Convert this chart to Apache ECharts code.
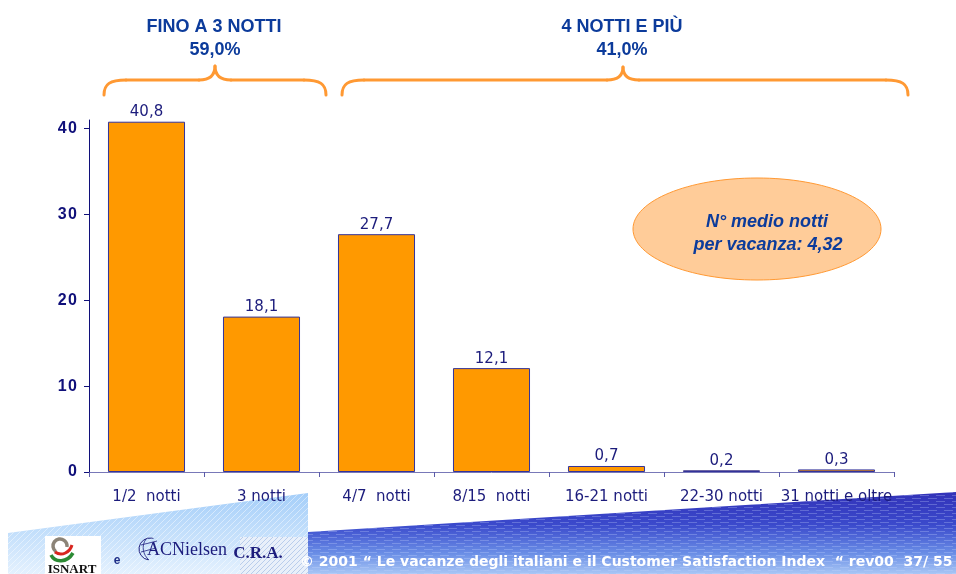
<!DOCTYPE html>
<html>
<head>
<meta charset="utf-8">
<script src="https://cdn.jsdelivr.net/npm/echarts@6/dist/echarts.min.js"></script>
<style>
  html, body { margin: 0; padding: 0; background: #ffffff; }
  #chart { width: 956px; height: 574px; }
</style>
</head>
<body>
<div id="chart"></div>
<script>
// Durata della vacanza: quota di vacanze per numero di notti (%)
const categories = ['1/2  notti', '3 notti', '4/7  notti', '8/15  notti', '16-21 notti', '22-30 notti', '31 notti e oltre'];
const shares = [40.8, 18.1, 27.7, 12.1, 0.7, 0.2, 0.3];
const yTicks = [0, 10, 20, 30, 40];

// Raggruppamenti indicati sopra il grafico
const groupTitles = ['FINO A 3 NOTTI', '4 NOTTI E PIÙ'];
const groupShares = [59.0, 41.0];
const averageNights = 4.32;

const footerText = '© 2001 “ Le vacanze degli italiani e il Customer Satisfaction Index  “ rev00  37/ 55';

const fmt = (v, d) => v.toFixed(d).replace('.', ',');

const NAVY = '#1c1c7c';
const TITLE_BLUE = '#0c3b9b';
const BRACE = '#ff9933';

// small repeating textures for the footer bands
function makePattern(w, h, draw) {
  const c = document.createElement('canvas');
  c.width = w; c.height = h;
  draw(c.getContext('2d'));
  return { image: c, repeat: 'repeat' };
}
const dashTexture = makePattern(16, 6, ctx => {
  ctx.fillStyle = 'rgba(205,220,255,0.28)';
  ctx.fillRect(0, 0, 9, 1);
  ctx.fillRect(8, 3, 8, 1);
  ctx.fillRect(0, 3, 1, 1);
});
const hatchTexture = makePattern(6, 6, ctx => {
  ctx.strokeStyle = 'rgba(255,255,255,0.45)';
  ctx.lineWidth = 1;
  ctx.beginPath();
  ctx.moveTo(0, 6); ctx.lineTo(6, 0);
  ctx.moveTo(-3, 3); ctx.lineTo(3, -3);
  ctx.moveTo(3, 9); ctx.lineTo(9, 3);
  ctx.stroke();
});
const greyHatch = makePattern(5, 5, ctx => {
  ctx.fillStyle = '#e9f0fa';
  ctx.fillRect(0, 0, 5, 5);
  ctx.strokeStyle = '#b9cdec';
  ctx.lineWidth = 1;
  ctx.beginPath();
  ctx.moveTo(0, 5); ctx.lineTo(5, 0);
  ctx.stroke();
});

// curly brace built from bezier segments
function brace(left, right, tipX, yEnd, yMid, yTip) {
  const s = { stroke: BRACE, lineWidth: 3, fill: null, lineCap: 'round' };
  const r = 22, t = 16;
  return [
    { type: 'bezierCurve', shape: { x1: left, y1: yEnd, cpx1: left, cpy1: yMid + 4, cpx2: left + 6, cpy2: yMid, x2: left + r, y2: yMid }, style: s },
    { type: 'line', shape: { x1: left + r, y1: yMid, x2: tipX - t, y2: yMid }, style: s },
    { type: 'bezierCurve', shape: { x1: tipX - t, y1: yMid, cpx1: tipX - 5, cpy1: yMid, cpx2: tipX, cpy2: yMid - 5, x2: tipX, y2: yTip }, style: s },
    { type: 'bezierCurve', shape: { x1: tipX, y1: yTip, cpx1: tipX, cpy1: yMid - 5, cpx2: tipX + 5, cpy2: yMid, x2: tipX + t, y2: yMid }, style: s },
    { type: 'line', shape: { x1: tipX + t, y1: yMid, x2: right - r, y2: yMid }, style: s },
    { type: 'bezierCurve', shape: { x1: right - r, y1: yMid, cpx1: right - 6, cpy1: yMid, cpx2: right, cpy2: yMid + 4, x2: right, y2: yEnd }, style: s }
  ].map(e => Object.assign(e, { z: 5 }));
}

const chart = echarts.init(document.getElementById('chart'), null, { renderer: 'canvas' });

const graphics = [
  // footer: light wedge on the left
  { type: 'polygon', z: -10, shape: { points: [[8, 533], [308, 493], [308, 574], [8, 574]] },
    style: { fill: new echarts.graphic.LinearGradient(0, 0, 0, 1, [
      { offset: 0, color: '#a4cef9' }, { offset: 1, color: '#e4f1fe' }]) } },
  { type: 'polygon', z: -9, shape: { points: [[8, 533], [308, 493], [308, 574], [8, 574]] },
    style: { fill: hatchTexture } },
  { type: 'rect', z: -8, shape: { x: 240, y: 537, width: 68, height: 37 }, style: { fill: greyHatch } },
  // footer: dark band on the right
  { type: 'polygon', z: -10, shape: { points: [[308, 532], [956, 492], [956, 574], [308, 574]] },
    style: { fill: new echarts.graphic.LinearGradient(0, 0, 0, 1, [
      { offset: 0, color: '#3232b8' }, { offset: 0.4, color: '#3b4acc' },
      { offset: 0.75, color: '#6a8ee6' }, { offset: 1, color: '#a8c6f5' }]) } },
  { type: 'polygon', z: -9, shape: { points: [[308, 532], [956, 492], [956, 574], [308, 574]] },
    style: { fill: dashTexture } },

  // ISNART logo
  { type: 'rect', z: 10, shape: { x: 45, y: 536, width: 56, height: 38 }, style: { fill: '#ffffff' } },
  { type: 'arc', z: 11, shape: { cx: 60, cy: 546, r: 7, startAngle: Math.PI * 0.7, endAngle: Math.PI * 2.05 },
    style: { stroke: '#8c8478', lineWidth: 3.5, fill: null } },
  { type: 'bezierCurve', z: 11, shape: { x1: 55, y1: 552, cpx1: 62, cpy1: 557, cpx2: 70, cpy2: 552, x2: 72, y2: 545 },
    style: { stroke: '#d8261f', lineWidth: 3, fill: null } },
  { type: 'bezierCurve', z: 11, shape: { x1: 51, y1: 555, cpx1: 55, cpy1: 563, cpx2: 67, cpy2: 563, x2: 73, y2: 553 },
    style: { stroke: '#2c8a34', lineWidth: 3.5, fill: null } },
  { type: 'text', z: 11, style: { text: 'ISNART', x: 72, y: 563, textAlign: 'center', textVerticalAlign: 'top',
    font: 'bold 13px "Liberation Serif"', fill: '#111111' } },
  { type: 'text', z: 11, style: { text: 'e', x: 117, y: 561, textAlign: 'center', textVerticalAlign: 'middle',
    font: 'bold 12px "Liberation Sans"', fill: '#1f2f88' } },
  // ACNielsen mark
  { type: 'arc', z: 11, shape: { cx: 150, cy: 549, r: 11, startAngle: Math.PI * 0.55, endAngle: Math.PI * 1.6 },
    style: { stroke: '#1c1c7c', lineWidth: 1, fill: null } },
  { type: 'bezierCurve', z: 11, shape: { x1: 146, y1: 539, cpx1: 141, cpy1: 546, cpx2: 143, cpy2: 555, x2: 149, y2: 560 },
    style: { stroke: '#1c1c7c', lineWidth: 0.8, fill: null } },
  { type: 'line', z: 11, shape: { x1: 141, y1: 545, x2: 157, y2: 541 }, style: { stroke: '#1c1c7c', lineWidth: 0.8 } },
  { type: 'line', z: 11, shape: { x1: 141, y1: 552, x2: 156, y2: 548 }, style: { stroke: '#1c1c7c', lineWidth: 0.8 } },
  { type: 'text', z: 11, style: { text: 'ACNielsen', x: 147, y: 550, textAlign: 'left', textVerticalAlign: 'middle',
    font: '18px "Liberation Serif"', fill: '#1c1c7c' } },
  { type: 'text', z: 11, style: { text: 'C.R.A.', x: 258, y: 554, textAlign: 'center', textVerticalAlign: 'middle',
    font: 'bold 17px "Liberation Serif"', fill: '#1c1c7c' } },
  { type: 'text', z: 11, style: { text: footerText, x: 300, y: 562, textAlign: 'left', textVerticalAlign: 'middle',
    font: 'bold 14px "DejaVu Sans"', fill: '#ffffff' } },

  // group headings
  { type: 'text', z: 5, style: { text: groupTitles[0], x: 214, y: 27, textAlign: 'center', textVerticalAlign: 'middle',
    font: 'bold 18px "Liberation Sans"', fill: TITLE_BLUE } },
  { type: 'text', z: 5, style: { text: fmt(groupShares[0], 1) + '%', x: 215, y: 50, textAlign: 'center', textVerticalAlign: 'middle',
    font: 'bold 18px "Liberation Sans"', fill: TITLE_BLUE } },
  { type: 'text', z: 5, style: { text: groupTitles[1], x: 622, y: 27, textAlign: 'center', textVerticalAlign: 'middle',
    font: 'bold 18px "Liberation Sans"', fill: TITLE_BLUE } },
  { type: 'text', z: 5, style: { text: fmt(groupShares[1], 1) + '%', x: 622, y: 50, textAlign: 'center', textVerticalAlign: 'middle',
    font: 'bold 18px "Liberation Sans"', fill: TITLE_BLUE } },
  ...brace(104, 326, 215, 95, 80, 66),
  ...brace(342, 908, 623, 95, 80, 67),

  // average nights callout
  { type: 'ellipse', z: 5, shape: { cx: 757, cy: 229, rx: 124, ry: 51 },
    style: { fill: '#ffcc99', stroke: '#ff9933', lineWidth: 1 } },
  { type: 'text', z: 6, style: { text: 'N° medio notti', x: 767, y: 222, textAlign: 'center', textVerticalAlign: 'middle',
    font: 'italic bold 18px "Liberation Sans"', fill: TITLE_BLUE } },
  { type: 'text', z: 6, style: { text: 'per vacanza: ' + fmt(averageNights, 2), x: 768, y: 245, textAlign: 'center', textVerticalAlign: 'middle',
    font: 'italic bold 18px "Liberation Sans"', fill: TITLE_BLUE } }
];

chart.setOption({
  animation: false,
  backgroundColor: '#ffffff',
  grid: { left: 89, right: 62, top: 120, bottom: 102, containLabel: false },
  xAxis: {
    type: 'category',
    data: categories,
    axisLine: { lineStyle: { color: '#7878b8', width: 1 } },
    axisTick: { show: true, length: 5, lineStyle: { color: '#5a5aa8' } },
    axisLabel: { color: NAVY, fontSize: 15, fontFamily: 'DejaVu Sans', margin: 18, interval: 0 },
    splitLine: { show: false }
  },
  yAxis: {
    type: 'value',
    min: 0,
    max: 41,
    interval: 10,
    axisLine: { show: true, lineStyle: { color: '#10107a', width: 1 } },
    axisTick: { show: true, length: 5, customValues: yTicks, lineStyle: { color: '#10107a' } },
    axisLabel: { customValues: yTicks, color: '#10107a', fontSize: 16, fontWeight: 'bold',
      fontFamily: 'Liberation Sans', margin: 12,
      formatter: v => String(v).split('').join('\u200a') },
    splitLine: { show: false }
  },
  series: [{
    type: 'bar',
    data: shares,
    barCategoryGap: '33%',
    itemStyle: { color: '#ff9900', borderColor: '#33339a', borderWidth: 1 },
    label: {
      show: true, position: 'top', distance: 2,
      color: NAVY, fontSize: 15, fontFamily: 'DejaVu Sans',
      formatter: p => fmt(p.value, 1)
    }
  }],
  graphic: graphics
});
</script>
</body>
</html>
